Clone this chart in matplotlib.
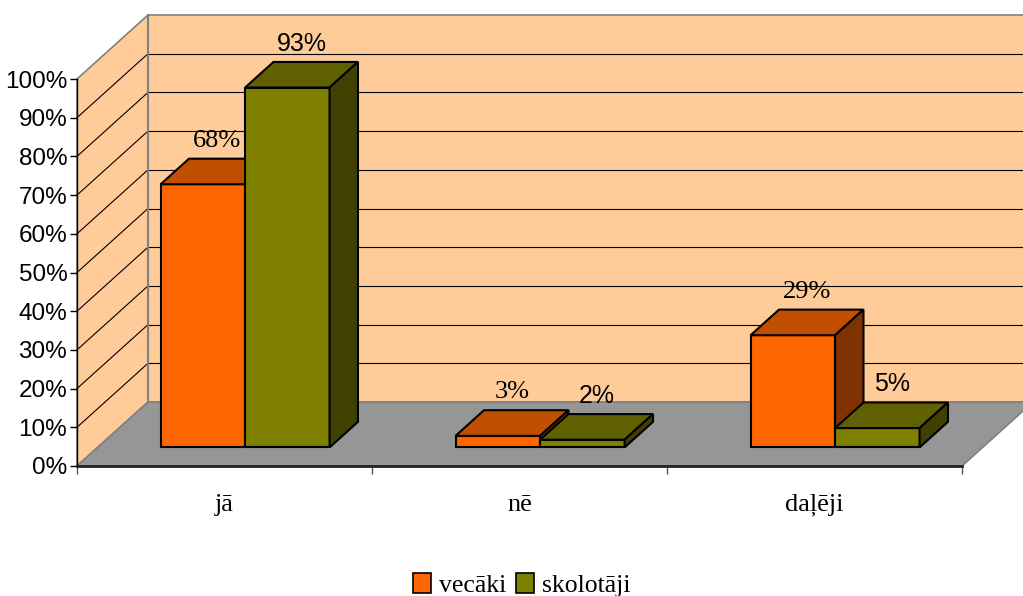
import numpy as np
import matplotlib.pyplot as plt
from matplotlib.patches import Polygon, Patch

categories = ["jā", "nē", "daļēji"]
series = ["vecāki", "skolotāji"]
vecaki = [68, 3, 29]
skolotaji = [93, 2, 5]
yticks = [0, 10, 20, 30, 40, 50, 60, 70, 80, 90, 100]

# colours per series: front, top, side
front_c = ["#FF6600", "#808000"]
top_c = ["#C04F00", "#606000"]
side_c = ["#803300", "#404000"]

wall_c = "#FFCC99"
floor_c = "#969696"
serif = ["Liberation Serif", "DejaVu Serif"]
sans = ["Liberation Sans", "DejaVu Sans"]

# depth of the 3d box in data units
DX = 71 / 295.0      # category units
DY = 64 / 3.87       # percent units
bw = 0.2864          # bar width (gap width 150%)
f0, fd = 0.29, 0.40  # bar front depth / bar depth (fractions of box depth)

fig = plt.figure(figsize=(10.23, 5.96), dpi=100)
ax = fig.add_axes([77 / 1023, 130 / 596, 885 / 1023, 387 / 596])
ax.set_xlim(0, 3)
ax.set_ylim(0, 100)
ax.patch.set_visible(False)

ncat = len(categories)

def poly(pts, fc, ec, lw, z):
    ax.add_patch(Polygon(pts, closed=True, facecolor=fc, edgecolor=ec,
                         linewidth=lw, zorder=z, clip_on=False))

# walls and floor
poly([(0, 0), (DX, DY), (DX, 100 + DY), (0, 100)], wall_c, "#808080", 1.2, 0)
poly([(DX, DY), (ncat + DX, DY), (ncat + DX, 100 + DY), (DX, 100 + DY)],
     wall_c, "#808080", 1.2, 0)
for v in yticks[1:-1]:
    ax.plot([0, DX], [v, v + DY], color="black", lw=0.8, zorder=1, clip_on=False)
    ax.plot([DX, ncat + DX], [v + DY, v + DY], color="black", lw=0.8, zorder=1,
            clip_on=False)
ax.plot([DX, DX], [DY, 100 + DY], color="#808080", lw=1.5, zorder=1, clip_on=False)
poly([(0, 0), (ncat, 0), (ncat + DX, DY), (DX, DY)], floor_c, "#808080", 1.2, 1)

# bars
for s, vals in enumerate([vecaki, skolotaji]):
    for i, v in enumerate(vals):
        x0 = i + 0.5 - bw + s * bw + f0 * DX
        y0 = f0 * DY
        x1 = x0 + bw
        ddx, ddy = fd * DX, fd * DY
        z = 3 + s
        poly([(x0, y0), (x1, y0), (x1, y0 + v), (x0, y0 + v)], front_c[s], "black", 1.5, z)
        poly([(x0, y0 + v), (x1, y0 + v), (x1 + ddx, y0 + v + ddy), (x0 + ddx, y0 + v + ddy)],
             top_c[s], "black", 1.5, z)
        poly([(x1, y0), (x1 + ddx, y0 + ddy), (x1 + ddx, y0 + v + ddy), (x1, y0 + v)],
             side_c[s], "black", 1.5, z)
        ax.annotate(f"{v}%", (x0 + bw / 2 + ddx / 2, y0 + v + ddy),
                    xytext=(0, 13), textcoords="offset points", ha="center", va="center",
                    fontsize=19 if s == 0 else 18, family=serif if s == 0 else sans,
                    zorder=6, annotation_clip=False)

# axes
for sp in ["top", "right"]:
    ax.spines[sp].set_visible(False)
ax.spines["left"].set_linewidth(1.0)
ax.spines["bottom"].set_linewidth(2.0)
ax.spines["bottom"].set_color("#222222")
ax.spines["left"].set_zorder(2)
ax.spines["bottom"].set_zorder(2)

ax.set_yticks(yticks)
ax.set_yticklabels([f"{v}%" for v in yticks], family=sans, fontsize=17.5)
ax.tick_params(axis="y", length=5, width=1, pad=2, direction="out")

ax.set_xticks(np.arange(ncat + 1))
ax.set_xticklabels([])
ax.set_xticks(np.arange(ncat) + 0.5, minor=True)
ax.set_xticklabels(categories, minor=True, family=serif, fontsize=19)
ax.tick_params(axis="x", which="major", length=6, width=1, color="#555555")
ax.tick_params(axis="x", which="minor", length=0, pad=20)

handles = [Patch(facecolor=front_c[k], edgecolor="black", linewidth=1.2) for k in range(2)]
fig.legend(handles, series, loc="lower center", bbox_to_anchor=(0.51, -0.04), ncol=2,
           frameon=False, prop={"family": serif, "size": 18.5}, handlelength=0.7,
           handleheight=0.8, handletextpad=0.3, columnspacing=0.4)

fig.savefig("out.png", dpi=100)
